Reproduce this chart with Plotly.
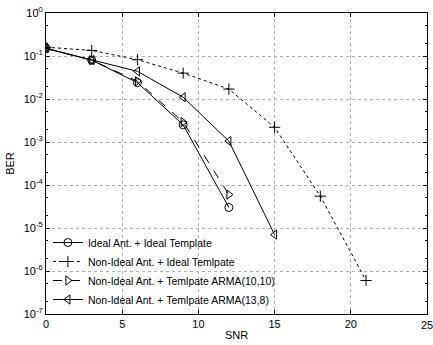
import plotly.graph_objects as go

# Data
snr_ideal = [0, 3, 6, 9, 12]
ber_ideal = [0.15, 0.08, 0.024, 2.5e-3, 3e-5]

snr_nonideal = [0, 3, 6, 9, 12, 15, 18, 21]
ber_nonideal = [0.16, 0.135, 0.082, 0.04, 0.017, 2.2e-3, 5.5e-5, 6e-7]

snr_arma1010 = [0, 3, 6, 9, 12]
ber_arma1010 = [0.15, 0.08, 0.026, 2.9e-3, 6e-5]

snr_arma138 = [0, 3, 6, 9, 12, 15]
ber_arma138 = [0.15, 0.08, 0.044, 0.011, 1.05e-3, 7e-6]

names = [
    "Ideal Ant. + Ideal Template",
    "Non-Ideal Ant. + Ideal Temlpate",
    "Non-Ideal Ant. + Temlpate ARMA(10,10)",
    "Non-Ideal Ant. + Temlpate ARMA(13,8)",
]

x_ticks = [0, 5, 10, 15, 20, 25]
y_exps = [0, -1, -2, -3, -4, -5, -6, -7]

font = "Liberation Sans, Arial, sans-serif"

fig = go.Figure()
series = [
    (snr_ideal, ber_ideal, names[0], "circle-open", "solid"),
    (snr_nonideal, ber_nonideal, names[1], "cross-thin-open", "dot"),
    (snr_arma1010, ber_arma1010, names[2], "triangle-right-open", "dash"),
    (snr_arma138, ber_arma138, names[3], "triangle-left-open", "solid"),
]
for x, y, n, sym, dash in series:
    fig.add_trace(go.Scatter(
        x=x, y=y, name=n, mode="lines+markers",
        line=dict(color="black", width=1, dash=dash),
        marker=dict(symbol=sym, size=8, color="black", line=dict(color="black", width=1)),
    ))

axis_common = dict(
    showline=True, linecolor="black", linewidth=1, mirror="ticks",
    ticks="inside", ticklen=4, tickcolor="black",
    showgrid=True, gridcolor="#b0b0b0", griddash="dot", gridwidth=1,
    zeroline=False, tickfont=dict(family=font, size=11, color="black"),
)

# last x tick label drawn as annotation (it is cut by the right edge in the reference)
fig.update_xaxes(
    range=[0, 25], tickvals=x_ticks,
    ticktext=[str(v) for v in x_ticks[:-1]] + [""],
    title=dict(text="SNR", font=dict(family=font, size=11, color="black"), standoff=2),
    **axis_common,
)
fig.add_annotation(
    x=x_ticks[-1], y=0, xref="x", yref="paper", yanchor="top", yshift=-3,
    text=str(x_ticks[-1]), showarrow=False,
    font=dict(family=font, size=11, color="black"),
)
fig.update_yaxes(
    type="log", range=[-7, 0],
    tickvals=[10.0 ** e for e in y_exps],
    ticktext=["10<sup>%d</sup>" % e for e in y_exps],
    title=dict(text="BER", font=dict(family=font, size=11, color="black"), standoff=6),
    minor=dict(ticks="inside", ticklen=2, tickcolor="black", showgrid=False),
    **axis_common,
)

fig.update_layout(
    width=433, height=345,
    margin=dict(l=46, r=5, t=10, b=25),
    paper_bgcolor="white", plot_bgcolor="white",
    font=dict(family=font, size=11, color="black"),
    legend=dict(
        x=0.005, y=0.0, xanchor="left", yanchor="bottom",
        bgcolor="rgba(255,255,255,0)", borderwidth=0,
        font=dict(family=font, size=10.5, color="black"),
        tracegroupgap=0, itemwidth=30,
    ),
)

fig.write_html("out.html")
